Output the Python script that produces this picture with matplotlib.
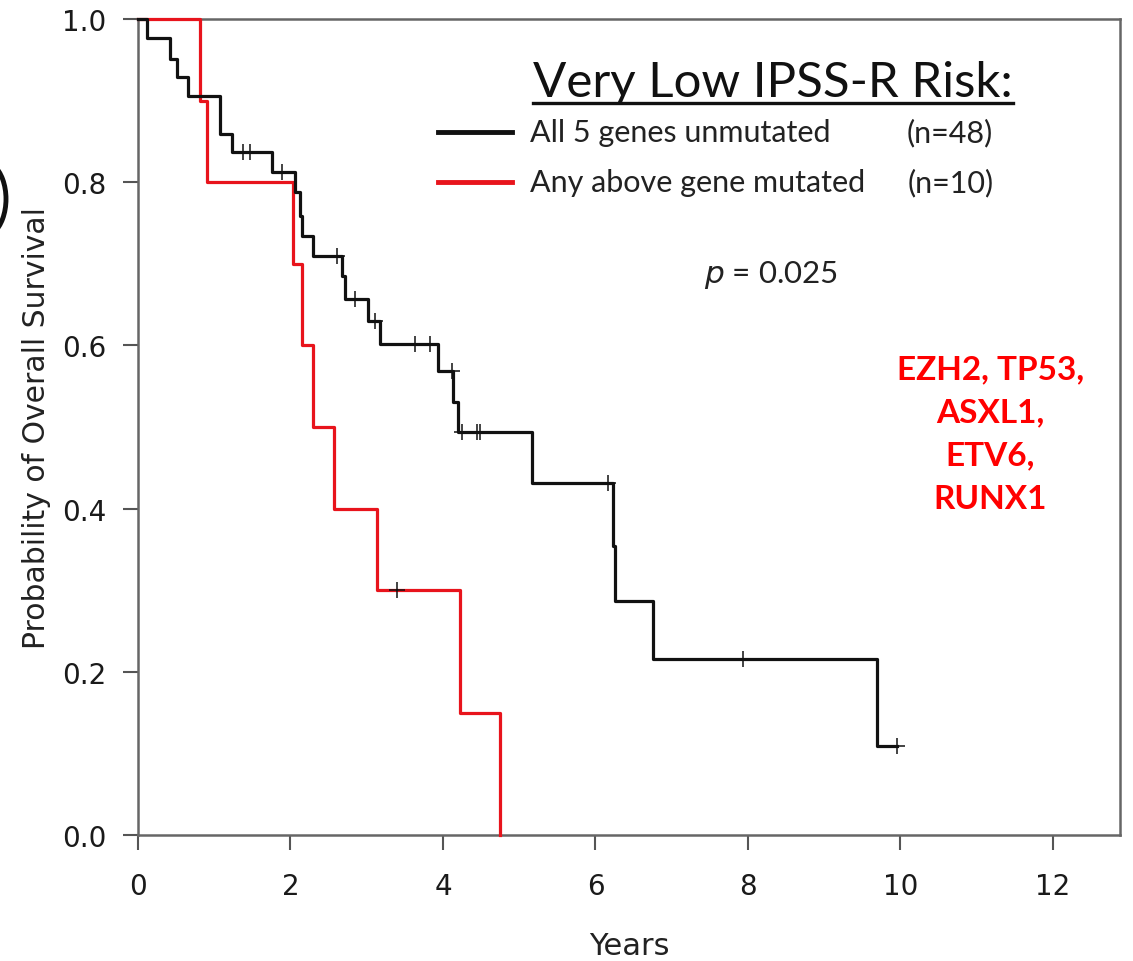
import matplotlib
matplotlib.use("Agg")
import matplotlib.pyplot as plt
from matplotlib.patches import Arc

# Kaplan-Meier steps (years, survival after the step)
black_t = [0, 0.12, 0.42, 0.51, 0.66, 1.07, 1.23, 1.76, 2.06, 2.12, 2.15, 2.30, 2.67, 2.71,
           3.02, 3.17, 3.93, 4.13, 4.20, 5.17, 6.23, 6.26, 6.75, 9.69, 9.95]
black_s = [1.0, 0.977, 0.951, 0.929, 0.906, 0.859, 0.837, 0.8125, 0.788, 0.759, 0.734, 0.71, 0.685, 0.657,
           0.63, 0.602, 0.569, 0.531, 0.494, 0.431, 0.354, 0.287, 0.216, 0.109, 0.109]
black_cens_t = [1.38, 1.47, 1.89, 2.61, 2.85, 3.11, 3.63, 3.83, 4.12, 4.25, 4.45, 4.49, 6.16, 7.93, 9.95]
black_cens_s = [0.837, 0.837, 0.8125, 0.71, 0.657, 0.63, 0.602, 0.602, 0.569, 0.494, 0.494, 0.494,
                0.431, 0.216, 0.109]

red_t = [0, 0.81, 0.91, 2.03, 2.15, 2.30, 2.57, 3.13, 4.22, 4.75]
red_s = [1.0, 0.9, 0.8, 0.7, 0.6, 0.5, 0.4, 0.3, 0.15, 0.0]
red_cens_t = [3.40]
red_cens_s = [0.3]

xticks = [0, 2, 4, 6, 8, 10, 12]
yticks = [0.0, 0.2, 0.4, 0.6, 0.8, 1.0]

title = "Very Low IPSS-R Risk:"
labels = ["All 5 genes unmutated", "Any above gene mutated"]
counts = ["(n=48)", "(n=10)"]
genes = "EZH2, TP53,\nASXL1,\nETV6,\nRUNX1"

BLACK = "#111111"
RED = "#e8141c"
LATO = ["Lato", "DejaVu Sans"]

fig = plt.figure(figsize=(11.33, 9.62), dpi=100)
ax = fig.add_axes([138 / 1133, 126 / 962, 982 / 1133, 816 / 962])

ax.step(black_t, black_s, where="post", color=BLACK, lw=2.3, clip_on=False, zorder=4)
ax.step(red_t, red_s, where="post", color=RED, lw=2.3, clip_on=False, zorder=3)
ax.plot(black_cens_t, black_cens_s, ls="none", marker="+", ms=12, mew=1.1, color=BLACK, zorder=4)
ax.plot(red_cens_t, red_cens_s, ls="none", marker="+", ms=12, mew=1.1, color=BLACK, zorder=4)

ax.set_xlim(0, 12.88)
ax.set_ylim(0, 1)
ax.set_xticks(xticks)
ax.set_yticks(yticks)
ax.set_xticklabels([str(v) for v in xticks])
ax.set_yticklabels(["%.1f" % v for v in yticks])
ax.tick_params(direction="out", length=11, width=1.5, color="#555555", labelsize=20,
               labelcolor="#1a1a1a")
ax.tick_params(axis="x", pad=16)
ax.tick_params(axis="y", pad=12)
for sp in ax.spines.values():
    sp.set_color("#666666")
    sp.set_linewidth(1.8)

ax.set_xlabel("Years", fontsize=22, color="#222222", labelpad=22)
ax.set_ylabel("Probability of Overall Survival", fontsize=21.5, color="#222222", labelpad=8)

# title with underline that follows the text width
t = ax.text(0.402, 0.906, title, transform=ax.transAxes, fontsize=35.5, family=LATO,
            color=BLACK, va="baseline", ha="left")
fig.canvas.draw()
bb = t.get_window_extent().transformed(ax.transAxes.inverted())
ax.plot([bb.x0, bb.x1], [0.897, 0.897], transform=ax.transAxes, color=BLACK, lw=2.4, clip_on=False)

# legend
key_y = [0.862, 0.800]
key_c = [BLACK, RED]
for yy, cc, lab, nn in zip(key_y, key_c, labels, counts):
    ax.plot([0.305, 0.381], [yy, yy], transform=ax.transAxes, color=cc, lw=3.5)
    ax.text(0.399, yy, lab, transform=ax.transAxes, fontsize=22, family=LATO,
            color="#222222", va="center", ha="left")
    ax.text(0.871, yy, nn, transform=ax.transAxes, fontsize=22, family=LATO,
            color="#222222", va="center", ha="right")

ax.text(0.645, 0.687, r"$\it{p}$ = 0.025", transform=ax.transAxes, fontsize=22.5,
        family=LATO, color="#222222", va="center", ha="center")

ax.text(0.868, 0.492, genes, transform=ax.transAxes, fontsize=24, fontweight="bold",
        family=LATO, color="#ff0000", va="center", ha="center", linespacing=1.6)

# remnant of the panel letter at the left edge
fig.add_artist(Arc((-17 / 1133, 1 - 200 / 962), 46 / 1133, 76 / 962, theta1=-75, theta2=75,
                   transform=fig.transFigure, color=BLACK, lw=3.5))

fig.savefig("out.png", dpi=100)
